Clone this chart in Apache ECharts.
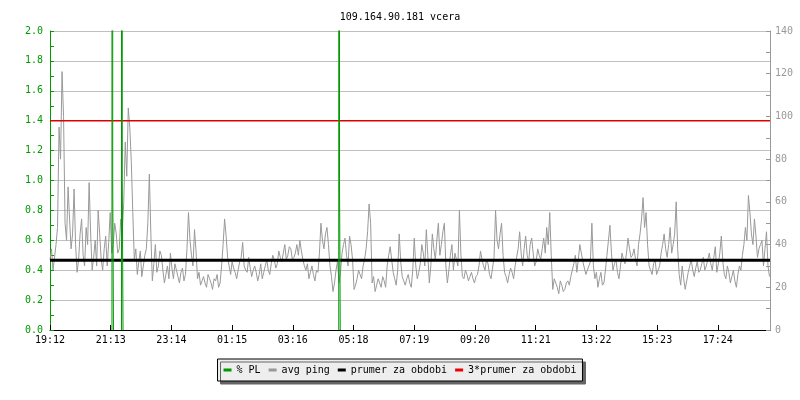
<!DOCTYPE html>
<html>
<head>
<meta charset="utf-8">
<script src="https://cdn.jsdelivr.net/npm/echarts@6/dist/echarts.min.js"></script>
<style>
  html, body { margin: 0; padding: 0; background: #fff; }
  #chart { width: 800px; height: 400px; }
</style>
</head>
<body>
<div id="chart"></div>
<script>
// x axis is minutes since 19:12, one tick every 121 min
const xLabels = ['19:12', '21:13', '23:14', '01:15', '03:16', '05:18', '07:19', '09:20', '11:21', '13:22', '15:23', '17:24']
const tickStep = 121
const xMax = 1435

// avg ping (ms), one sample every 3 minutes
const pingStep = 3
const avgPing = [
  33, 38, 28, 34, 40, 48, 95, 80, 121, 100, 50, 42, 67, 52, 38, 45, 66, 40, 27, 33,
  45, 52, 35, 30, 48, 40, 69, 45, 28, 34, 42, 30, 56, 45, 33, 28, 38, 44, 30, 41,
  55, 36, 40, 50, 45, 36, 38, 52, 46, 60, 88, 72, 104, 95, 79, 55, 33, 38, 26, 32,
  37, 25, 30, 35, 38, 50, 73, 45, 23, 31, 40, 27, 30, 37, 35, 28, 22, 26, 30, 24,
  36, 29, 24, 31, 28, 25, 22, 27, 29, 23, 26, 38, 55, 42, 35, 30, 47, 37, 24, 27,
  21, 23, 25, 22, 20, 26, 24, 22, 19, 24, 23, 26, 20, 22, 30, 40, 52, 44, 34, 30,
  26, 32, 29, 27, 24, 28, 32, 34, 41, 30, 28, 27, 34, 29, 25, 28, 30, 27, 23, 26,
  31, 24, 27, 30, 33, 28, 26, 31, 35, 33, 29, 31, 37, 34, 32, 36, 40, 33, 35, 39,
  38, 33, 34, 36, 40, 35, 42, 37, 33, 30, 28, 31, 24, 27, 30, 26, 23, 28, 27, 36,
  50, 42, 38, 45, 48, 40, 30, 25, 18, 22, 28, 32, 22, 27, 36, 40, 43, 35, 30, 44,
  40, 33, 19, 21, 24, 28, 26, 24, 30, 33, 38, 46, 59, 50, 22, 25, 18, 21, 24, 22,
  20, 25, 23, 20, 30, 35, 39, 33, 27, 24, 21, 28, 45, 32, 25, 23, 21, 24, 26, 22,
  20, 28, 43, 30, 24, 27, 31, 40, 36, 30, 47, 35, 22, 30, 45, 38, 33, 42, 50, 35,
  40, 46, 50, 30, 22, 28, 35, 40, 28, 36, 33, 30, 56, 35, 25, 24, 28, 26, 23, 25,
  27, 24, 22, 25, 26, 30, 37, 33, 30, 28, 33, 31, 26, 24, 29, 34, 56, 42, 38, 45,
  50, 35, 27, 25, 22, 26, 29, 27, 24, 30, 34, 38, 46, 36, 30, 38, 44, 35, 32, 40,
  43, 36, 30, 32, 38, 35, 33, 38, 43, 36, 48, 40, 55, 35, 19, 24, 22, 20, 17, 23,
  21, 18, 19, 22, 23, 21, 25, 28, 31, 35, 27, 33, 40, 36, 32, 29, 26, 28, 30, 32,
  50, 30, 24, 27, 20, 24, 27, 21, 22, 28, 35, 42, 49, 36, 28, 31, 33, 27, 24, 30,
  36, 33, 31, 36, 43, 38, 34, 35, 38, 33, 30, 40, 45, 52, 62, 48, 55, 40, 30, 28,
  26, 31, 33, 26, 28, 30, 36, 40, 45, 38, 34, 40, 48, 36, 40, 45, 60, 38, 26, 21,
  30, 24, 19, 23, 27, 30, 33, 28, 25, 29, 32, 27, 28, 31, 34, 28, 30, 33, 36, 31,
  28, 34, 39, 27, 31, 36, 44, 32, 26, 24, 30, 27, 22, 25, 28, 23, 20, 26, 30, 28,
  35, 40, 48, 42, 63, 55, 45, 40, 52, 44, 34, 38, 40, 42, 30, 38, 46, 30, 25
]

// packet loss (%), only the moments where it was non-zero
const plTime = [
  123.5, 123.5, 125, 125, 125, 126.5, 126.5, null,
  142.5, 142.5, 144, 144, 144, 145.5, 145.5, null,
  575.5, 575.5, 577, 577, 577, 578.5, 578.5
]
const plValue = [
  0, 1, 1, 100, 1, 1, 0, null,
  0, 1, 1, 100, 1, 1, 0, null,
  0, 1, 1, 100, 1, 1, 0
]

const avgPeriod = 32.7
const avgPeriod3 = 98

const chart = echarts.init(document.getElementById('chart'))

const mono = 'DejaVu Sans Mono'
const green = '#009900'
const grey = '#999999'

const pingData = avgPing.map((v, i) => [i * pingStep, v])
const plData = plTime.map((t, i) => (t === null ? null : [t, plValue[i]]))

chart.setOption({
  animation: false,
  title: {
    text: '109.164.90.181 vcera',
    left: 'center',
    top: 7,
    textStyle: { fontFamily: mono, fontSize: 10, fontWeight: 'normal', color: '#000' }
  },
  legend: {
    left: 'center',
    top: 359,
    padding: [6, 6],
    itemGap: 8,
    itemWidth: 8,
    itemHeight: 3,
    icon: 'rect',
    backgroundColor: '#eeeeee',
    borderColor: '#000',
    borderWidth: 1,
    shadowColor: '#666666',
    shadowOffsetX: 3,
    shadowOffsetY: 3,
    shadowBlur: 0,
    selectedMode: false,
    textStyle: { fontFamily: mono, fontSize: 10, color: '#000' },
    data: ['% PL', 'avg ping', 'prumer za obdobi', '3*prumer za obdobi']
  },
  grid: { left: 50, right: 30, top: 31, bottom: 70 },
  xAxis: {
    type: 'value',
    min: 0,
    max: xMax,
    interval: tickStep,
    axisLine: { lineStyle: { color: '#000' } },
    axisTick: { inside: true, length: 5, lineStyle: { color: '#000' } },
    splitLine: { show: false },
    axisLabel: {
      margin: 5,
      fontFamily: mono,
      fontSize: 10,
      color: '#000',
      showMaxLabel: false,
      formatter: v => xLabels[Math.round(v / tickStep)] || ''
    }
  },
  yAxis: [
    {
      type: 'value',
      min: 0,
      max: 2,
      interval: 0.2,
      axisLine: { show: true, lineStyle: { color: green } },
      axisTick: { inside: true, length: 4, lineStyle: { color: green } },
      minorTick: { show: true, splitNumber: 2, length: 4, lineStyle: { color: green } },
      splitLine: { lineStyle: { color: '#c0c0c0' } },
      axisLabel: {
        margin: 7,
        fontFamily: mono,
        fontSize: 10,
        color: green,
        formatter: v => v.toFixed(1)
      }
    },
    {
      type: 'value',
      min: 0,
      max: 140,
      interval: 20,
      position: 'right',
      axisLine: { show: true, lineStyle: { color: grey } },
      axisTick: { inside: true, length: 4, lineStyle: { color: grey } },
      minorTick: { show: true, splitNumber: 2, length: 4, lineStyle: { color: grey } },
      splitLine: { show: false },
      axisLabel: { margin: 5, fontFamily: mono, fontSize: 10, color: grey }
    }
  ],
  series: [
    {
      name: 'avg ping',
      type: 'line',
      yAxisIndex: 1,
      symbol: 'none',
      color: grey,
      lineStyle: { width: 1, color: grey },
      data: pingData
    },
    {
      name: 'prumer za obdobi',
      type: 'line',
      yAxisIndex: 1,
      symbol: 'none',
      color: '#000',
      lineStyle: { width: 3, color: '#000' },
      data: [[0, avgPeriod], [xMax, avgPeriod]]
    },
    {
      name: '3*prumer za obdobi',
      type: 'line',
      yAxisIndex: 1,
      symbol: 'none',
      color: '#ee0000',
      lineStyle: { width: 1.5, color: '#dd0000' },
      data: [[0, avgPeriod3], [xMax, avgPeriod3]]
    },
    {
      name: '% PL',
      type: 'line',
      yAxisIndex: 0,
      symbol: 'none',
      color: green,
      clip: true,
      connectNulls: false,
      lineStyle: { width: 1, color: green },
      data: plData
    }
  ]
})
</script>
</body>
</html>
